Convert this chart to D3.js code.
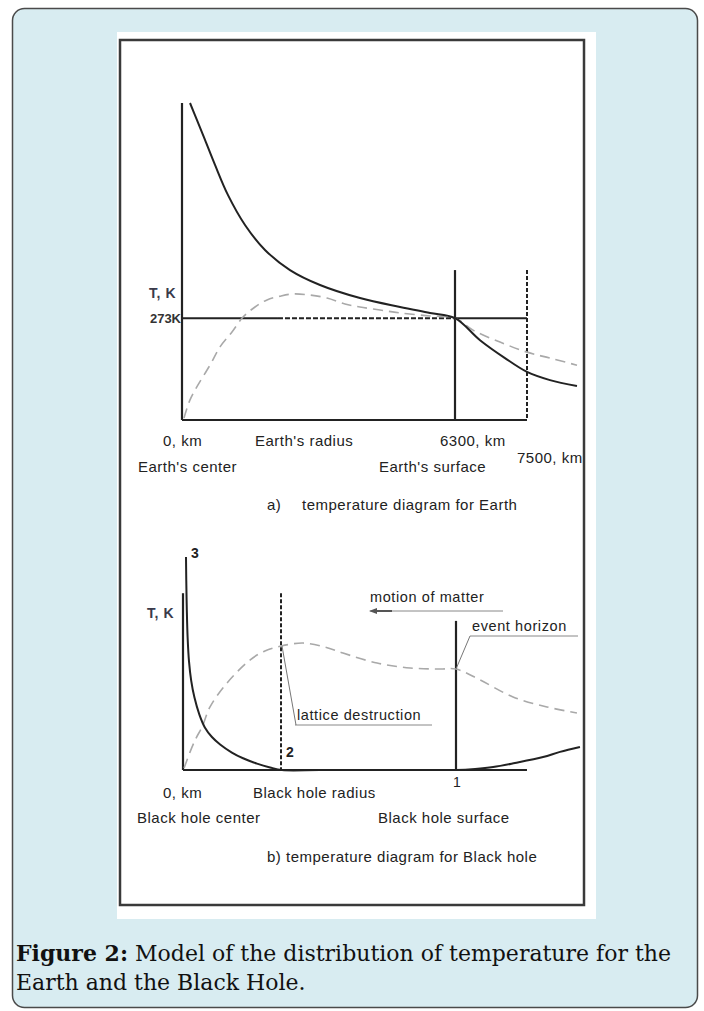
<!DOCTYPE html>
<html>
<head>
<meta charset="utf-8">
<script src="https://cdn.jsdelivr.net/npm/d3@7"></script>
<style>
  body { margin: 0; background: #fff; }
  svg text.lbl { font-family: "Liberation Sans", Arial, sans-serif; }
  svg text.cap { font-family: "DejaVu Serif", "Liberation Serif", serif; }
</style>
</head>
<body>
<div id="chart"></div>
<script>
// ---- data ----
// a) Earth: radius in km, temperature in K
const earthKm    = [185, 346, 531, 762, 1062, 1454, 1915, 2492, 3185, 4108, 5031, 5723, 6300, 6717, 7133, 7500, 7883, 8333];
const earthT     = [850, 804, 751, 684, 603, 523, 456, 402, 362, 327, 303, 287, 273, 214, 166, 129, 107, 91];
const earthDashKm = [46, 185, 369, 646, 877, 1154, 1408, 1685, 1962, 2262, 2562, 2954, 3346, 3762, 4108, 4569, 5031, 5723, 6300, 6600, 7050, 7500, 7883, 8333];
const earthDashT  = [5, 54, 94, 147, 196, 236, 276, 303, 322, 332, 338, 335, 327, 311, 303, 295, 287, 279, 273, 241, 209, 182, 166, 147];
const earthXTicks = [0, 6300, 7500];          // km
const earthXTickLabels = ["0, km", "6300, km", "7500, km"];
const freezeT = 273;
const freezeLabel = "273K";
const earthTmax = 850;
const earthMarkT = 402;                        // top of the two vertical markers
const freezeSolidKm = 2215;                    // 273K line turns dashed here

// b) Black hole: radius relative to the surface, temperature in relative units
const holeR  = [0.011, 0.012, 0.014, 0.017, 0.022, 0.03, 0.042, 0.06, 0.08, 0.106, 0.136, 0.179, 0.22, 0.271, 0.319, 0.363, 0.5, 0.7, 0.9, 1.0, 1.07, 1.136, 1.216, 1.319, 1.381, 1.454];
const holeT  = [100, 89, 75, 62, 51, 42, 34, 26, 20, 15.5, 12, 8.2, 5.5, 3, 1.2, 0, 0, 0, 0, 0, 0.5, 1.4, 3.3, 6.1, 8.5, 10.8];
const holeDashR = [0.004, 0.026, 0.048, 0.07, 0.099, 0.161, 0.245, 0.3, 0.359, 0.44, 0.52, 0.586, 0.711, 0.832, 0.941, 1.0, 1.088, 1.209, 1.333, 1.443];
const holeDashT = [0.9, 8.5, 15, 20.2, 29.6, 40.8, 51.6, 55.9, 58.2, 59.6, 57.7, 54.9, 50.2, 47.9, 47.4, 47.4, 42.3, 34.3, 29.6, 26.8];
const latticeR = 0.359, surfaceR = 1, holeAxisEnd = 1.26;
const holeAxisTop = 83, horizonTop = 70;
const holePointLabels = ["3", "2", "1"];

const W = 704, H = 1011;
const ink = "#222";

const svg = d3.select("#chart").append("svg")
  .attr("width", W).attr("height", H);

// page panel
svg.append("rect")
  .attr("x", 12.5).attr("y", 8.5).attr("width", 685).attr("height", 999)
  .attr("rx", 12).attr("fill", "#d8ecf1").attr("stroke", "#4a4a4a").attr("stroke-width", 1.5);

// picture area + frame
svg.append("rect").attr("x", 117).attr("y", 32).attr("width", 479).attr("height", 887).attr("fill", "#fff");
svg.append("rect").attr("x", 120).attr("y", 40).attr("width", 464).attr("height", 865)
  .attr("fill", "none").attr("stroke", "#3a3a3a").attr("stroke-width", 2.5);

const line = (xs, ys, x, y) => d3.line()
  .x((d, i) => x(xs[i])).y((d, i) => y(ys[i]))
  .curve(d3.curveCatmullRom.alpha(0.5))(xs);

function seg(g, x1, y1, x2, y2, opts = {}) {
  return g.append("line")
    .attr("x1", x1).attr("y1", y1).attr("x2", x2).attr("y2", y2)
    .attr("stroke", opts.color || ink)
    .attr("stroke-width", opts.width || 2)
    .attr("stroke-dasharray", opts.dash || null);
}

function label(g, x, y, text, opts = {}) {
  return g.append("text")
    .attr("class", "lbl")
    .attr("x", x).attr("y", y)
    .attr("text-anchor", opts.anchor || "start")
    .attr("font-size", opts.size || 15)
    .attr("letter-spacing", opts.ls != null ? opts.ls : 0.5)
    .attr("font-weight", opts.weight || "normal")
    .attr("fill", opts.color || ink)
    .text(text);
}

// ---------- a) Earth ----------
{
  const g = svg.append("g");
  const x = d3.scaleLinear().domain([0, 6300, 7500]).range([182, 455, 527]);
  const y = d3.scaleLinear().domain([0, earthTmax]).range([420, 103]);

  // 273K line: solid, dashed, solid
  seg(g, x(0), y(freezeT), x(freezeSolidKm), y(freezeT));
  seg(g, x(freezeSolidKm), y(freezeT), x(6300), y(freezeT), { dash: "5,2" });
  seg(g, x(6300), y(freezeT), x(7500), y(freezeT));

  // markers at the surface and at 7500 km
  seg(g, x(6300), y(earthMarkT), x(6300), y(0), { width: 2.2 });
  seg(g, x(7500), y(earthMarkT), x(7500), y(0), { dash: "4,2" });

  // axes
  seg(g, x(0), y(earthTmax), x(0), y(0), { width: 2.2 });
  seg(g, x(0), y(0), x(7500), y(0), { width: 2.2 });

  g.append("path").attr("d", line(earthDashKm, earthDashT, x, y))
    .attr("fill", "none").attr("stroke", "#a9a9a9").attr("stroke-width", 1.6)
    .attr("stroke-dasharray", "10,6");
  g.append("path").attr("d", line(earthKm, earthT, x, y))
    .attr("fill", "none").attr("stroke", ink).attr("stroke-width", 2);

  label(g, 149, 298, "T, K", { size: 14, weight: "bold", color: "#3a3a4a", ls: 0.6 });
  label(g, x(0) - 1, y(freezeT) + 5, freezeLabel, { anchor: "end", size: 13, weight: "bold", color: "#333", ls: 0 });

  label(g, x(earthXTicks[0]) - 19, 446, earthXTickLabels[0]);
  label(g, x(earthXTicks[1]) - 15, 446, earthXTickLabels[1]);
  label(g, x(earthXTicks[2]) - 10, 463, earthXTickLabels[2]);
  label(g, 255, 446, "Earth's radius");
  label(g, 138, 472, "Earth's center");
  label(g, 379, 472, "Earth's surface");
  label(g, 267, 510, "a)");
  label(g, 302, 510, "temperature diagram for Earth");
}

// ---------- b) Black hole ----------
{
  const g = svg.append("g");
  const x = d3.scaleLinear().domain([0, 1]).range([183, 456]);
  const y = d3.scaleLinear().domain([0, 100]).range([770, 557]);

  // verticals
  seg(g, x(latticeR), y(holeAxisTop), x(latticeR), y(0), { dash: "4,2" });
  seg(g, x(surfaceR), y(horizonTop), x(surfaceR), y(0), { width: 2.2 });

  // axes
  seg(g, x(0), y(holeAxisTop), x(0), y(0), { width: 2.2 });
  seg(g, x(0), y(0), x(holeAxisEnd), y(0), { width: 2.2 });

  g.append("path").attr("d", line(holeDashR, holeDashT, x, y))
    .attr("fill", "none").attr("stroke", "#a9a9a9").attr("stroke-width", 1.6)
    .attr("stroke-dasharray", "10,6");
  g.append("path").attr("d", line(holeR, holeT, x, y))
    .attr("fill", "none").attr("stroke", ink).attr("stroke-width", 2);

  // motion of matter
  label(g, 370, 602, "motion of matter", { size: 14.5, ls: 0.6 });
  seg(g, 370, 611, 503, 611, { width: 1, color: "#888" });
  seg(g, 376, 611, 392, 611, { width: 2, color: "#555" });
  g.append("path").attr("d", "M369,611 L377,608 L377,614 Z").attr("fill", "#555");

  // event horizon
  const hy = y(holeDashT[holeDashR.indexOf(surfaceR)]);
  label(g, 472, 631, "event horizon", { size: 14.5, ls: 0.6 });
  seg(g, 470, 636, 578, 636, { width: 1, color: "#888" });
  seg(g, 470, 636, x(surfaceR), hy, { width: 1, color: "#777" });

  // lattice destruction
  const ly = y(holeDashT[holeDashR.indexOf(latticeR)]);
  label(g, 297, 720, "lattice destruction", { size: 14.5, ls: 0.6 });
  seg(g, 295, 725, 432, 725, { width: 1, color: "#888" });
  seg(g, x(latticeR) + 1, ly, 296, 725, { width: 1, color: "#777" });

  label(g, 191, 558, holePointLabels[0], { size: 14, weight: "bold", ls: 0 });
  label(g, x(latticeR) + 5, 757, holePointLabels[1], { size: 14, weight: "bold", ls: 0 });
  label(g, x(surfaceR) - 3, 787, holePointLabels[2], { size: 14, ls: 0 });

  label(g, 147, 618, "T, K", { size: 14, weight: "bold", color: "#3a3a4a", ls: 0.6 });

  label(g, 163, 798, "0, km");
  label(g, 253, 798, "Black hole radius");
  label(g, 137, 823, "Black hole center");
  label(g, 378, 823, "Black hole surface");
  label(g, 267, 862, "b) temperature diagram for Black hole");
}

// caption
const cap = svg.append("text")
  .attr("class", "cap")
  .attr("font-size", 22).attr("fill", "#111");
cap.append("tspan").attr("x", 16).attr("y", 961).attr("font-weight", "bold").text("Figure 2:");
cap.append("tspan").text(" Model of the distribution of temperature for the");
cap.append("tspan").attr("x", 16).attr("y", 990).text("Earth and the Black Hole.");
</script>
</body>
</html>
